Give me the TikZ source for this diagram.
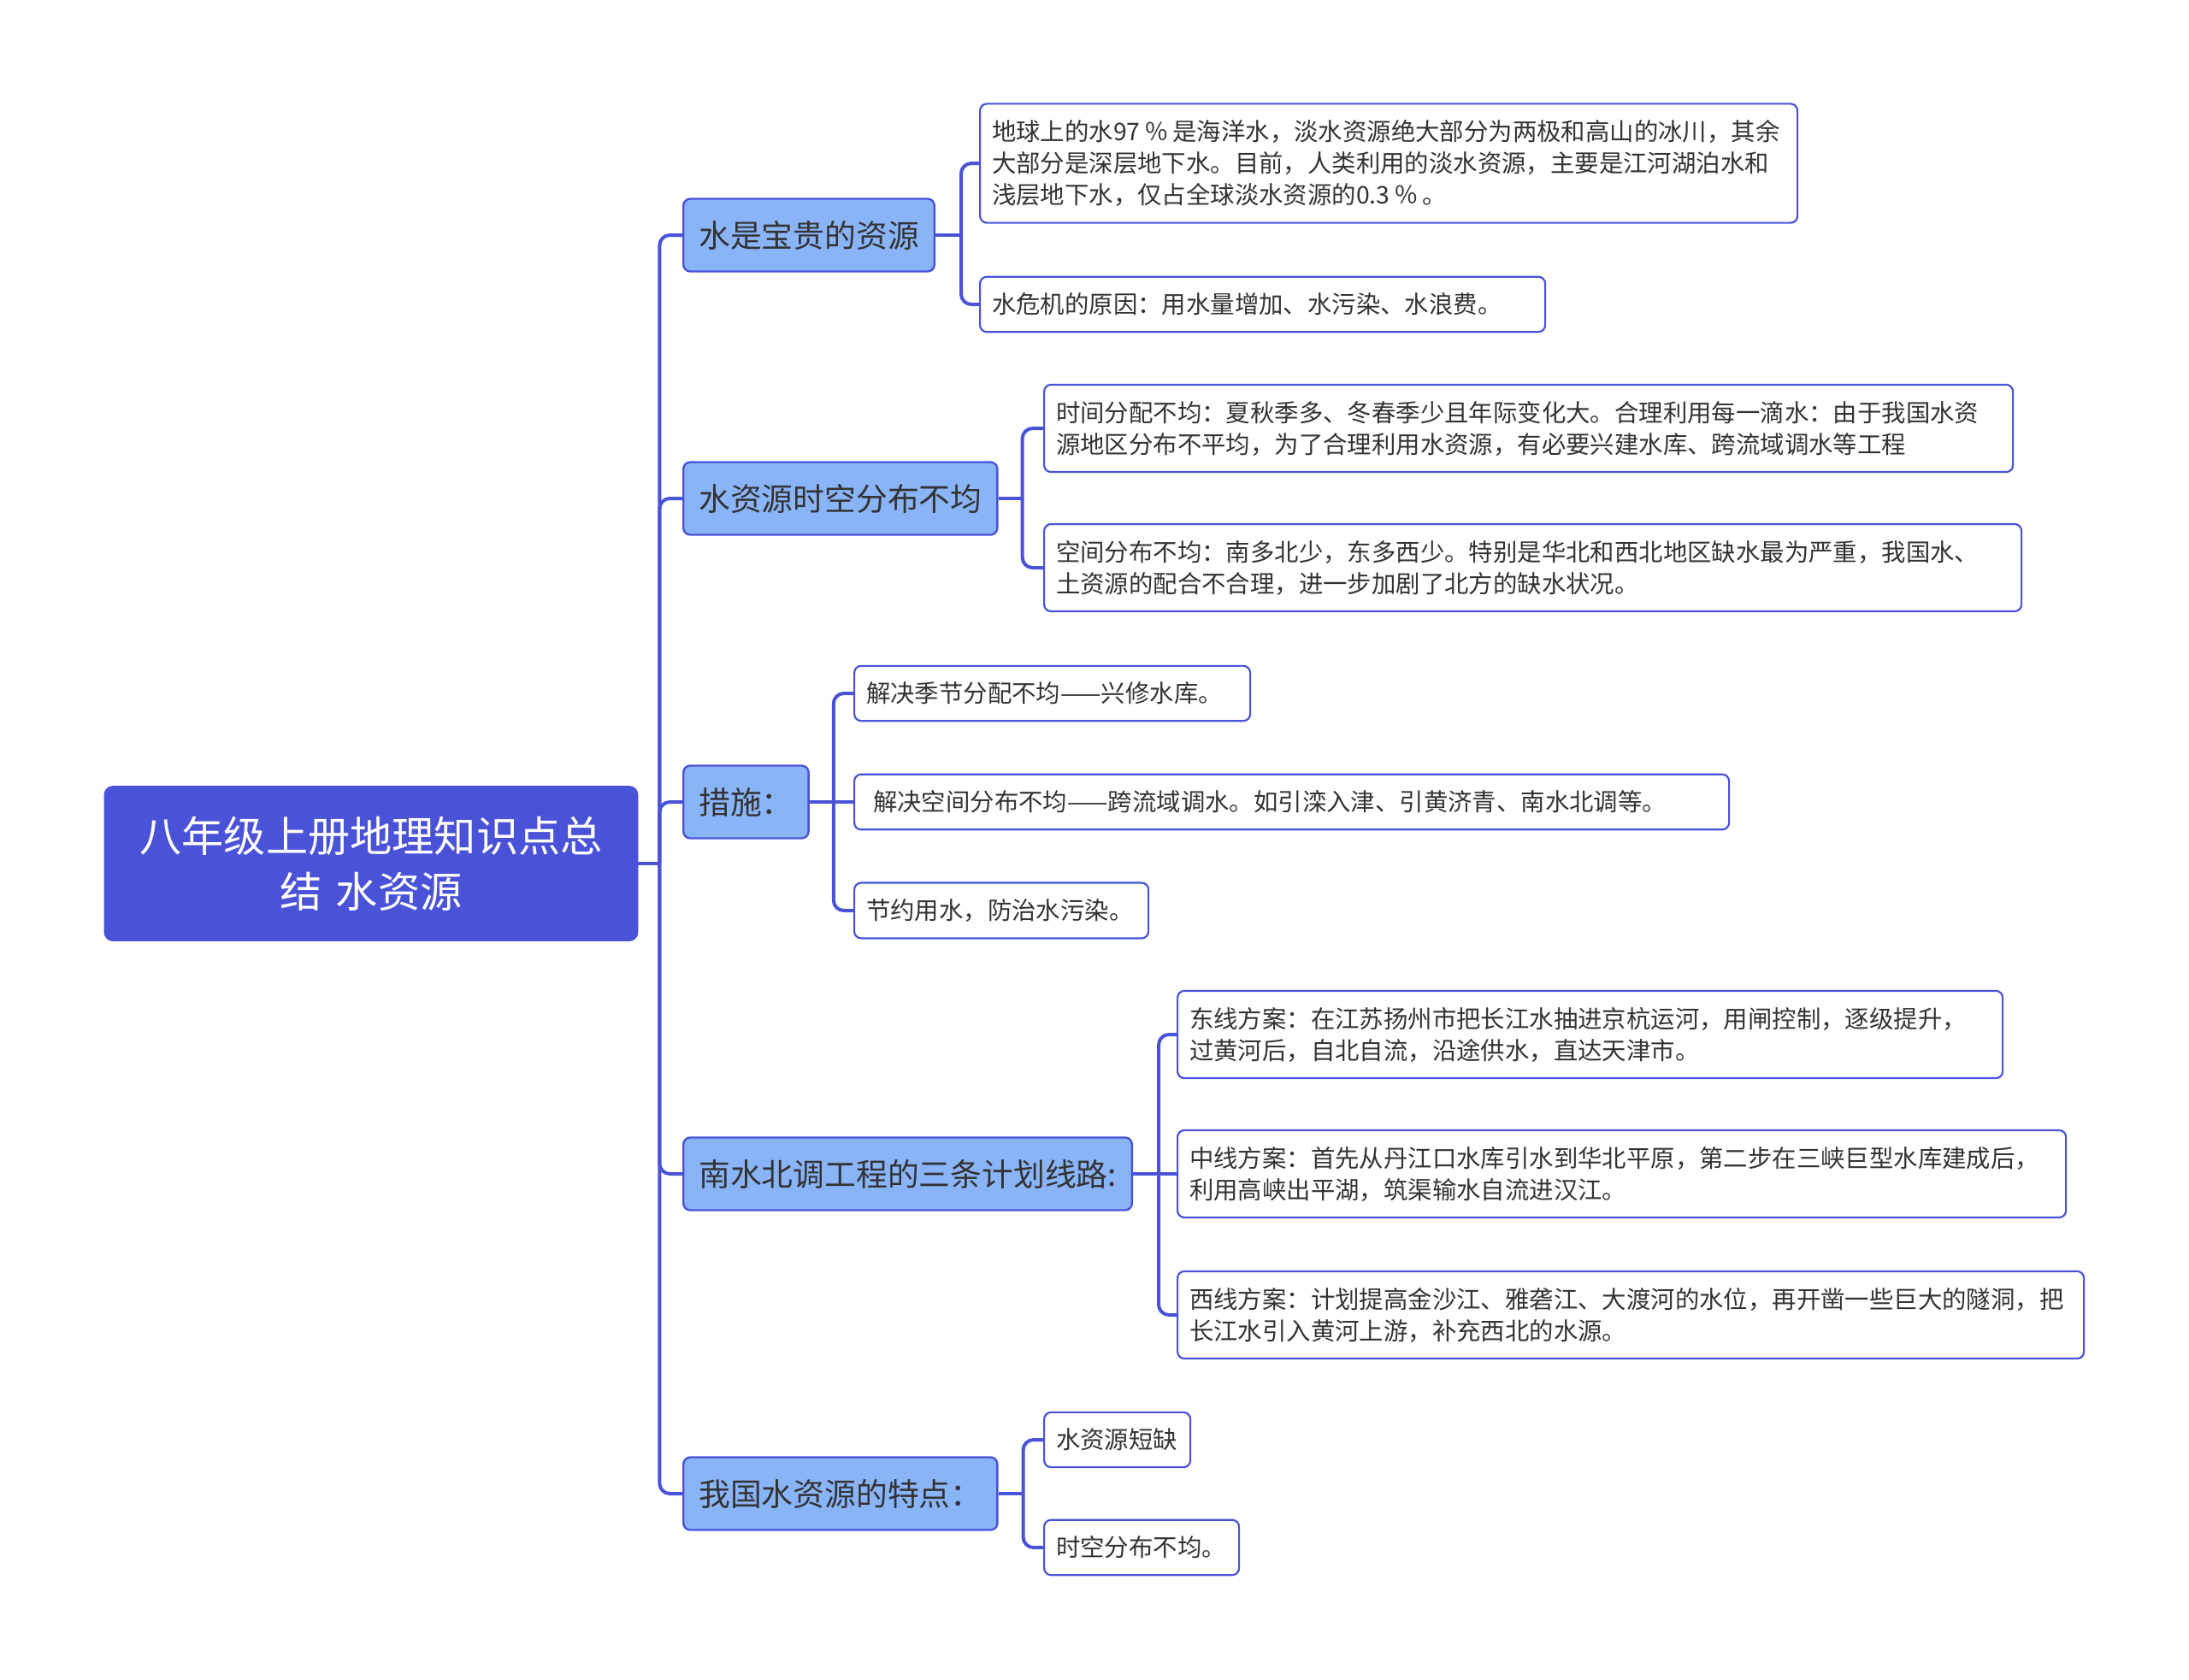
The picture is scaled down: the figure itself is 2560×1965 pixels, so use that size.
\documentclass[tikz,border=0pt]{standalone}
\usepackage{fontspec}
\newfontfamily\cjk{Noto Sans CJK SC}
\usepackage{xcolor}
\usepackage{tikz}
\usetikzlibrary{positioning}

\definecolor{mapblue}{RGB}{74,83,216}
\definecolor{topicfill}{RGB}{138,180,248}
\definecolor{textgray}{RGB}{51,51,51}

\begin{document}
\begin{tikzpicture}[
    x=0.5pt, y=-0.5pt,
    rootbox/.style={rectangle, draw=mapblue, fill=mapblue, rounded corners=5pt,
                text=white, font=\cjk\fontsize{24.6pt}{32.6pt}\selectfont,
                align=center, text width=290pt, minimum width=312pt, minimum height=90.5pt},
    topic/.style={rectangle, draw=mapblue, line width=1.2pt, rounded corners=4pt,
                fill=topicfill, text=textgray, font=\cjk\fontsize{18.4pt}{22pt}\selectfont,
                inner xsep=9pt, minimum height=42.5pt, anchor=west},
    leaf/.style={rectangle, draw=mapblue, line width=1.1pt, rounded corners=4pt,
                fill=white, text=textgray, font=\cjk\fontsize{14.2pt}{18.5pt}\selectfont,
                inner xsep=7pt, inner ysep=9.5pt, align=left, anchor=west},
    link/.style={draw=mapblue, line width=2pt, rounded corners=6pt}
]
\useasboundingbox (0,0) rectangle (2560,1965);

% === ROOT ===
\node[rootbox] (root) at (434,1010) {八年级上册地理知识点总\\结 水资源};

% === TOPICS ===
\node[topic] (res) at (798,275) {水是宝贵的资源};
\node[topic] (dist) at (798,583) {水资源时空分布不均};
\node[topic] (meas) at (798,938) {措施：};
\node[topic] (proj) at (798,1373) {南水北调工程的三条计划线路:};
\node[topic] (feat) at (798,1747) {我国水资源的特点：};

% === WATER IS PRECIOUS ===
\node[leaf, text width=464pt] (res1) at (1145,191) {地球上的水97\,％\,是海洋水，淡水资源绝大部分为两极和高山的冰川，其余\\
大部分是深层地下水。目前，人类利用的淡水资源，主要是江河湖泊水和\\
浅层地下水，仅占全球淡水资源的0.3\,％\,。};
\node[leaf, text width=316.5pt] (res2) at (1145,356) {水危机的原因：用水量增加、水污染、水浪费。};

% === UNEVEN DISTRIBUTION ===
\node[leaf, text width=552.5pt] (dist1) at (1220,501) {时间分配不均：夏秋季多、冬春季少且年际变化大。合理利用每一滴水：由于我国水资\\
源地区分布不平均，为了合理利用水资源，有必要兴建水库、跨流域调水等工程};
\node[leaf, text width=557.5pt] (dist2) at (1220,664) {空间分布不均：南多北少，东多西少。特别是华北和西北地区缺水最为严重，我国水、\\
土资源的配合不合理，进一步加剧了北方的缺水状况。};

% === MEASURES ===
\node[leaf, text width=217.5pt] (meas1) at (998,811) {解决季节分配不均——兴修水库。};
\node[leaf, text width=497.5pt] (meas2) at (998,938) {\hspace{4pt}解决空间分布不均——跨流域调水。如引滦入津、引黄济青、南水北调等。};
\node[leaf, text width=158pt] (meas3) at (998,1065) {节约用水，防治水污染。};

% === SOUTH-TO-NORTH PROJECT ===
\node[leaf, text width=468.5pt] (proj1) at (1376,1210) {东线方案：在江苏扬州市把长江水抽进京杭运河，用闸控制，逐级提升，\\
过黄河后，自北自流，沿途供水，直达天津市。};
\node[leaf, text width=505.5pt] (proj2) at (1376,1373) {中线方案：首先从丹江口水库引水到华北平原，第二步在三峡巨型水库建成后，\\
利用高峡出平湖，筑渠输水自流进汉江。};
\node[leaf, text width=516pt] (proj3) at (1376,1538) {西线方案：计划提高金沙江、雅砻江、大渡河的水位，再开凿一些巨大的隧洞，把\\
长江水引入黄河上游，补充西北的水源。};

% === FEATURES ===
\node[leaf, text width=71.5pt] (feat1) at (1220,1684) {水资源短缺};
\node[leaf, text width=100pt] (feat2) at (1220,1810) {时空分布不均。};

% === CONNECTORS ===
\coordinate (trunk) at ([xshift=12.5pt]root.east);
\draw[link] (root.east) -- (trunk);
\draw[link] (trunk) |- (res.west);
\draw[link] (trunk) |- (dist.west);
\draw[link] (trunk) |- (meas.west);
\draw[link] (trunk) |- (proj.west);
\draw[link] (trunk) |- (feat.west);

\coordinate (bres) at ([xshift=15pt]res.east);
\draw[link] (res.east) -- (bres);
\draw[link] (bres) |- (res1.west);
\draw[link] (bres) |- (res2.west);

\coordinate (bdist) at ([xshift=14pt]dist.east);
\draw[link] (dist.east) -- (bdist);
\draw[link] (bdist) |- (dist1.west);
\draw[link] (bdist) |- (dist2.west);

\coordinate (bmeas) at ([xshift=14pt]meas.east);
\draw[link] (meas.east) -- (bmeas);
\draw[link] (bmeas) |- (meas1.west);
\draw[link] (bmeas) -- (meas2.west);
\draw[link] (bmeas) |- (meas3.west);

\coordinate (bproj) at ([xshift=15pt]proj.east);
\draw[link] (proj.east) -- (bproj);
\draw[link] (bproj) |- (proj1.west);
\draw[link] (bproj) -- (proj2.west);
\draw[link] (bproj) |- (proj3.west);

\coordinate (bfeat) at ([xshift=14.5pt]feat.east);
\draw[link] (feat.east) -- (bfeat);
\draw[link] (bfeat) |- (feat1.west);
\draw[link] (bfeat) |- (feat2.west);

\end{tikzpicture}
\end{document}
